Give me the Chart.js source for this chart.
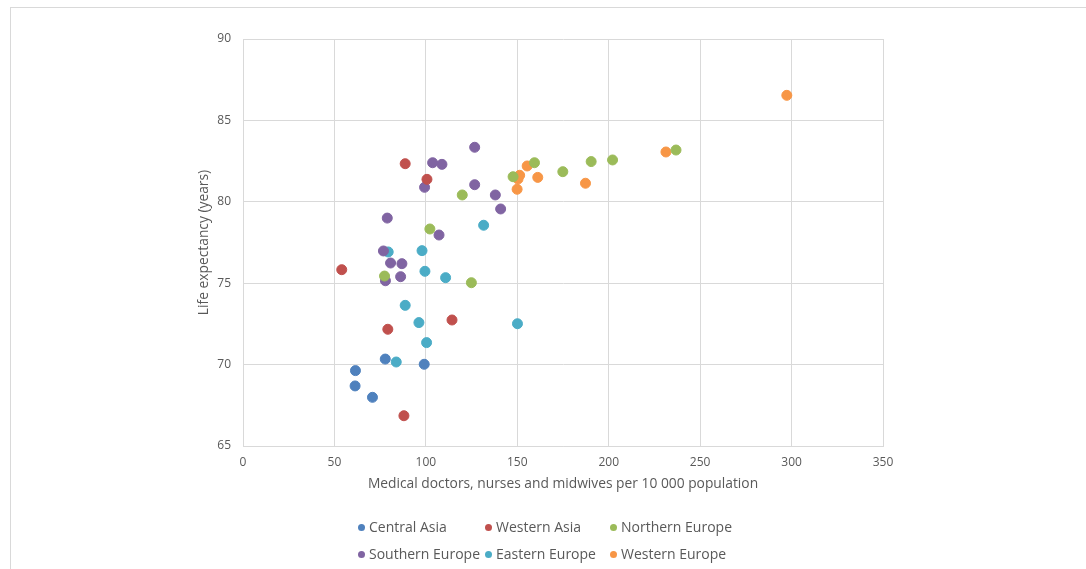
<!DOCTYPE html>
<html>
<head>
<meta charset="utf-8">
<script src="https://cdn.jsdelivr.net/npm/chart.js@4.4.1/dist/chart.umd.min.js"></script>
<style>
  html, body { margin: 0; padding: 0; background: #fff; }
  #wrap { position: relative; width: 1086px; height: 569px; overflow: hidden; }
  #frame { position: absolute; left: 10px; top: 7px; width: 1200px; height: 700px; border-left: 1px solid #d9d9d9; border-top: 1px solid #d9d9d9; }
  canvas { position: absolute; left: 0; top: 0; }
  .leg { position: absolute; font-family: "Open Sans", sans-serif; font-size: 14px; color: #595959; white-space: nowrap; line-height: 18px; }
  .leg .dot { display: inline-block; width: 7px; height: 7px; border-radius: 50%; margin-right: 4px; vertical-align: 1px; }
</style>
</head>
<body>
<div id="wrap">
  <div id="frame"></div>
  <canvas id="c" width="1086" height="569"></canvas>
  <div id="legend"></div>
</div>
<script>
const seriesNames = ["Central Asia", "Western Asia", "Northern Europe", "Southern Europe", "Eastern Europe", "Western Europe"];
const seriesColors = ["#4F81BD", "#C0504D", "#9BBB59", "#8064A2", "#4BACC6", "#F79646"];

const centralAsiaX = [61.5, 61.3, 70.8, 77.8, 99.1];
const centralAsiaY = [69.63, 68.69, 67.99, 70.34, 70.02];

const westernAsiaX = [88.7, 100.6, 54.0, 79.2, 114.3, 88.0];
const westernAsiaY = [82.34, 81.38, 75.83, 72.17, 72.74, 66.86];

const northernEuropeX = [159.4, 174.9, 147.7, 119.9, 102.2, 77.4, 124.9, 236.8, 202.1, 190.4];
const northernEuropeY = [82.40, 81.85, 81.54, 80.42, 78.33, 75.44, 75.03, 83.18, 82.57, 82.47];

const southernEuropeX = [126.7, 103.7, 108.8, 99.3, 126.7, 138.0, 140.9, 78.9, 107.2, 76.8, 80.7, 86.9, 86.2, 77.9];
const southernEuropeY = [83.35, 82.40, 82.30, 80.89, 81.05, 80.42, 79.56, 79.00, 77.96, 76.98, 76.24, 76.20, 75.40, 75.15];

const easternEuropeX = [131.6, 79.4, 97.9, 99.5, 110.8, 88.7, 96.2, 150.1, 100.4, 83.8];
const easternEuropeY = [78.56, 76.92, 77.00, 75.73, 75.34, 73.64, 72.58, 72.51, 71.35, 70.16];

const westernEuropeX = [297.4, 231.3, 187.3, 155.4, 161.2, 151.3, 150.4, 149.9];
const westernEuropeY = [86.54, 83.06, 81.14, 82.20, 81.50, 81.63, 81.40, 80.77];

const xTitle = "Medical doctors, nurses and midwives per 10 000 population";
const yTitle = "Life expectancy (years)";

const seriesX = [centralAsiaX, westernAsiaX, northernEuropeX, southernEuropeX, easternEuropeX, westernEuropeX];
const seriesY = [centralAsiaY, westernAsiaY, northernEuropeY, southernEuropeY, easternEuropeY, westernEuropeY];

const datasets = seriesNames.map((name, i) => ({
  label: name,
  data: seriesX[i].map((x, j) => ({ x: x, y: seriesY[i][j] })),
  backgroundColor: seriesColors[i],
  borderColor: seriesColors[i],
  borderWidth: 1,
  pointRadius: 5,
  pointHoverRadius: 5
}));

const FONT = "'Open Sans', sans-serif";
const GRID = "#d9d9d9";
const TXT = "#595959";

new Chart(document.getElementById('c'), {
  type: 'scatter',
  data: { datasets: datasets },
  options: {
    responsive: false,
    animation: false,
    events: [],
    layout: { padding: { left: 192, top: 39, right: 203, bottom: 73 } },
    plugins: { legend: { display: false }, tooltip: { enabled: false } },
    scales: {
      x: {
        type: 'linear', min: 0, max: 350,
        ticks: { stepSize: 50, color: TXT, font: { family: FONT, size: 12 }, padding: 9, maxRotation: 0 },
        grid: { color: GRID, drawTicks: false },
        border: { color: GRID },
        title: { display: true, text: xTitle, color: TXT, font: { family: FONT, size: 13.8 }, padding: { top: 4, bottom: 4 } },
        afterFit: (s) => { s.height = 50; }
      },
      y: {
        type: 'linear', min: 65, max: 90,
        ticks: { stepSize: 5, color: TXT, font: { family: FONT, size: 12 }, padding: 12 },
        grid: { color: GRID, drawTicks: false },
        border: { color: GRID },
        title: { display: true, text: yTitle, color: TXT, font: { family: FONT, size: 13.8 }, padding: { top: 4, bottom: 4 } },
        afterFit: (s) => { s.width = 51; }
      }
    }
  }
});

// Legend (HTML, laid out in a 3-column grid like the reference)
const legendCols = [358, 485, 610];
const legendRows = [518, 545];
const legendEl = document.getElementById('legend');
seriesNames.forEach((name, i) => {
  const d = document.createElement('div');
  d.className = 'leg';
  d.style.left = legendCols[i % 3] + 'px';
  d.style.top = legendRows[Math.floor(i / 3)] + 'px';
  d.innerHTML = '<span class="dot" style="background:' + seriesColors[i] + '"></span>' + name;
  legendEl.appendChild(d);
});
</script>
</body>
</html>
